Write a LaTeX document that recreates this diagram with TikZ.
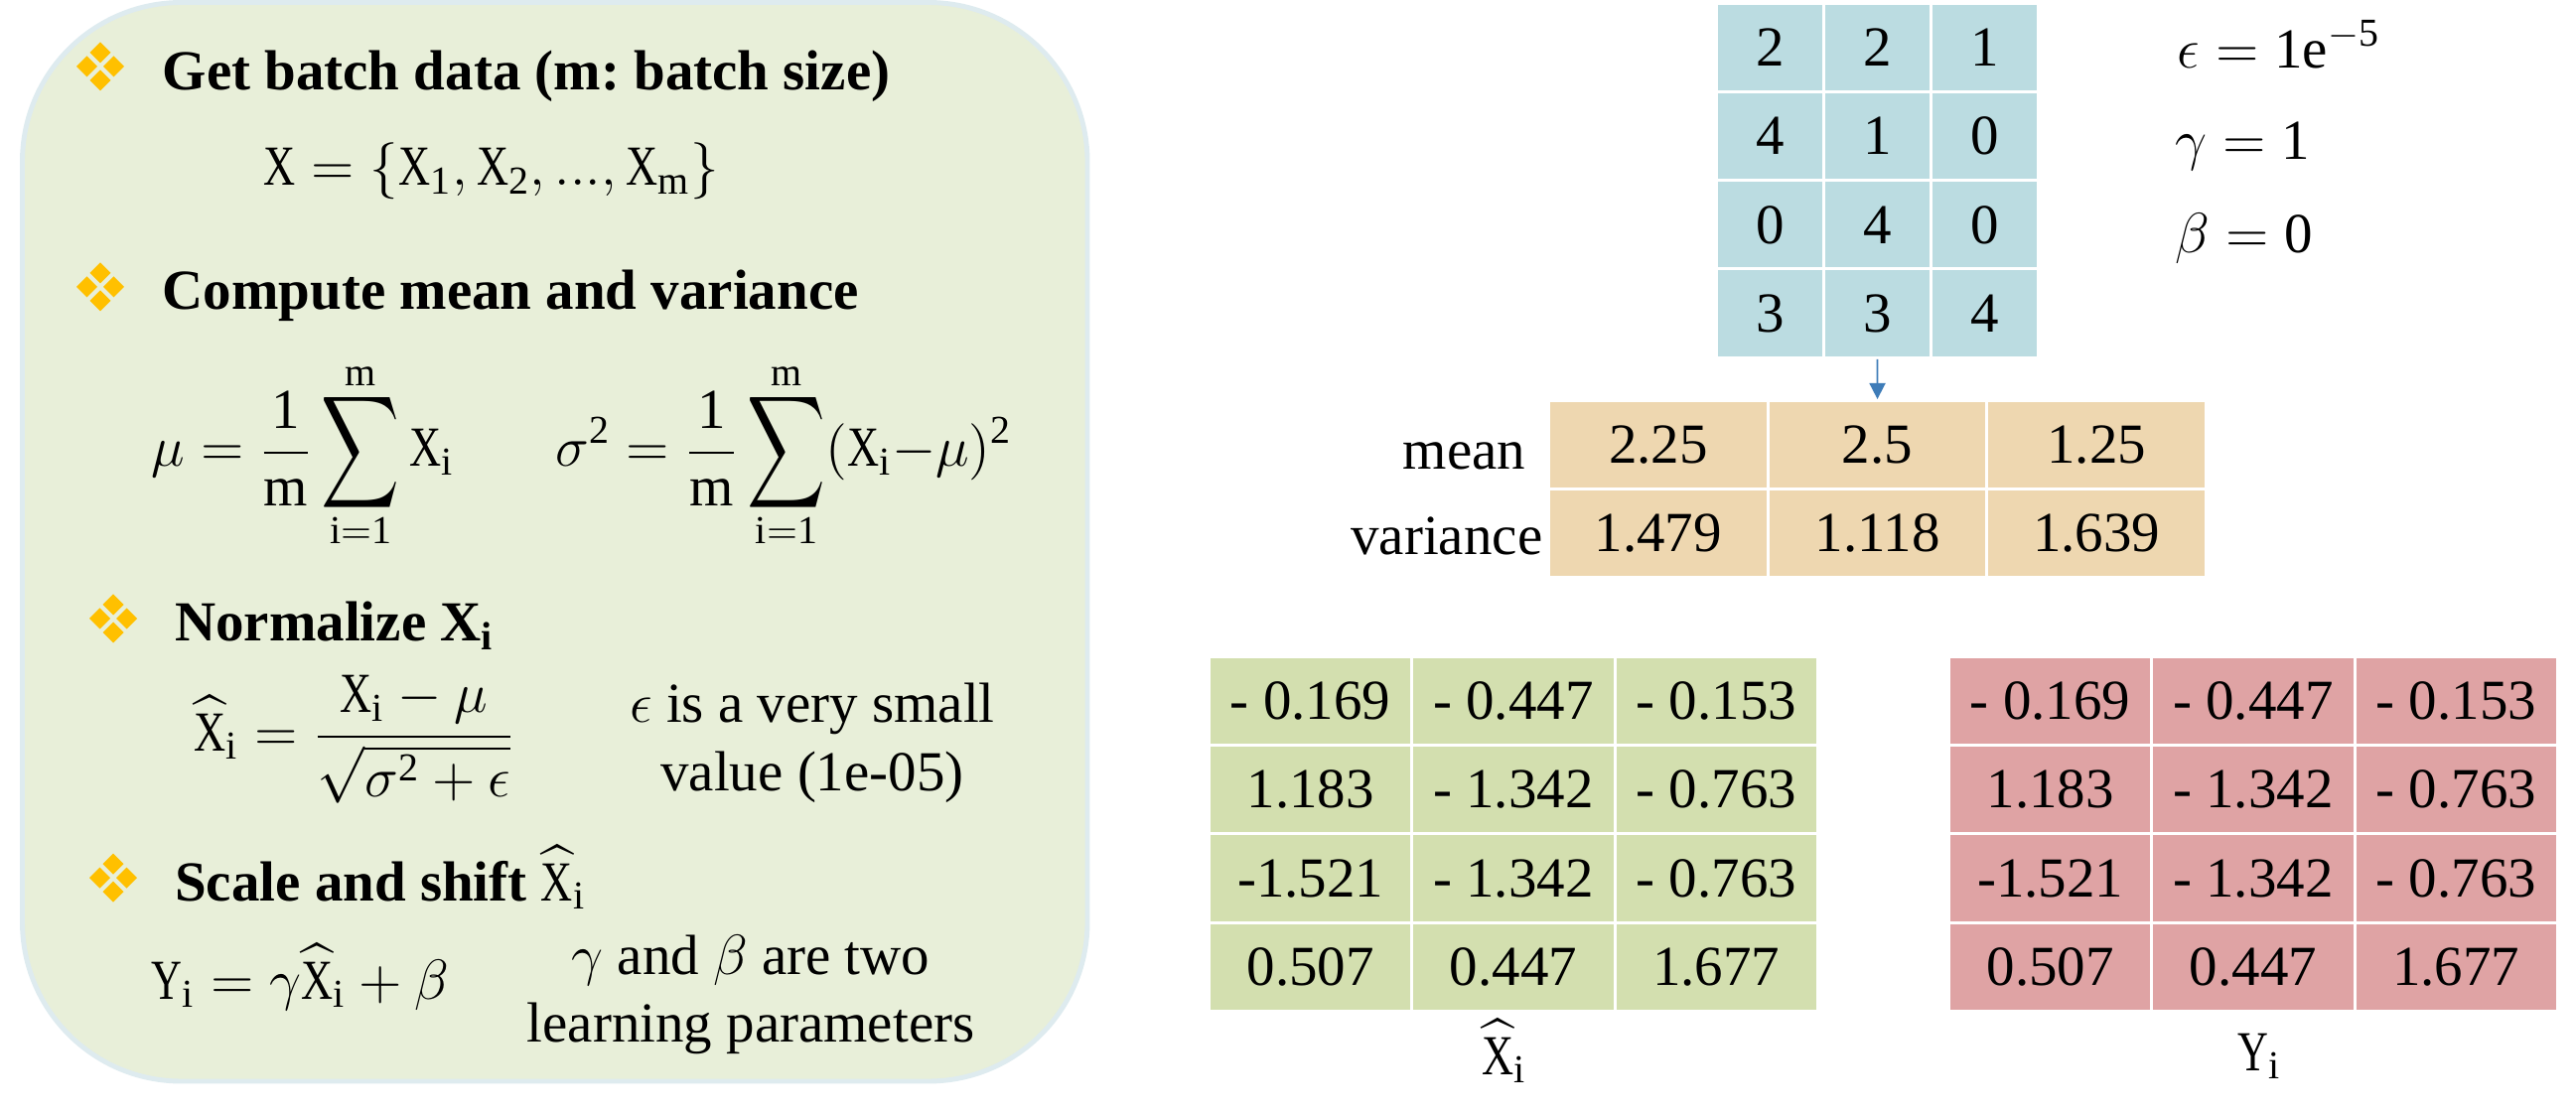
\documentclass[tikz,border=0pt]{standalone}
\usepackage{fix-cm}
\usepackage{amsmath}
\usepackage{graphicx}
\usepackage{fontspec}
\setmainfont{Liberation Serif}
\usetikzlibrary{arrows.meta}
\definecolor{panelfill}{HTML}{E8EFD9}
\definecolor{panelline}{HTML}{DEEBEF}
\definecolor{bulletgold}{HTML}{FFC000}
\definecolor{inputblue}{HTML}{BBDCE1}
\definecolor{statsorange}{HTML}{EED7B0}
\definecolor{xhatgreen}{HTML}{D3DFAF}
\definecolor{youtpink}{HTML}{DFA3A4}
\definecolor{arrowblue}{HTML}{3E7CB8}
\newcommand{\xv}{\mbox{\scalebox{.78}[1]{X}}}
\newcommand{\yv}{\mbox{\scalebox{.75}[1]{Y}}}
\newcommand{\xhatv}{\widehat{\xv}}
\newcommand{\iv}{\mathrm{i}}
\newcommand{\bigsum}{\mathop{\vcenter{\vskip-2.3pt\hbox{\scalebox{.9}[1.3]{$\displaystyle\sum$}}\vskip-2.3pt}}\limits_{\mathrm{i}{=}\mathrm{1}}^{\mathrm{m}}}
\tikzset{
  cell/.style={draw=white, line width=.85pt, inner sep=0pt},
  inputcell/.style={cell, fill=inputblue, minimum width=1.08cm, minimum height=.893cm},
  statscell/.style={cell, fill=statsorange, minimum width=2.207cm, minimum height=.89cm},
  greencell/.style={cell, fill=xhatgreen, minimum width=2.043cm, minimum height=.8925cm},
  pinkcell/.style={cell, fill=youtpink, minimum width=2.043cm, minimum height=.8925cm},
  txt/.style={anchor=base west, inner sep=0pt},
  mid/.style={anchor=base, inner sep=0pt},
  bulletmark/.pic={
    \foreach \dx/\dy in {0/-14,-13.5/0,13.5/0,0/14}
      \fill[bulletgold] (\dx,\dy) +(-10.5,0) -- +(0,-10.5) -- +(10.5,0) -- +(0,10.5) -- cycle;
  }
}
\begin{document}
\frenchspacing
\begin{tikzpicture}[x=0.01cm, y=-0.01cm, font=\fontsize{16.2}{20}\selectfont]
\useasboundingbox (0,0) rectangle (2594,1122);
% left panel
\draw[fill=panelfill, draw=panelline, line width=1.4pt, rounded corners=1.6cm] (22.5,2.5) rectangle (1095,1089);
\pic at (101,67) {bulletmark};
\pic at (101,289) {bulletmark};
\pic at (114,623) {bulletmark};
\pic at (114,884) {bulletmark};
\node[txt] (head1) at (163,91) {\textbf{Get batch data (m: batch size)}};
\node[txt] (batch) at (265,187) {$\xv=\{\xv_{\mathrm{1}},\xv_{\mathrm{2}},\mathrm{...},\xv_{\mathrm{m}}\}$};
\node[txt] (head2) at (163,312) {\textbf{Compute mean and variance}};
\node[txt] (meaneq) at (152,470) {$\displaystyle\mu=\frac{\mathrm{1}}{\mathrm{m}}\bigsum\xv_{\iv}$};
\node[txt] (vareq) at (559,470) {$\displaystyle\sigma^{\mathrm{2}}=\frac{\mathrm{1}}{\mathrm{m}}\bigsum(\xv_{\iv}{-}\mu)^{\mathrm{2}}$};
\node[txt] (head3) at (175.5,646) {\textbf{Normalize} $\mathbf{X}_{\mathbf{i}}$};
\node[txt] (normeq) at (195,756) {$\displaystyle\xhatv_{\iv}=\frac{\xv_{\iv}-\mu}{\sqrt{\sigma^{\mathrm{2}}+\epsilon}}$};
\node[mid] (small1) at (818,728) {$\epsilon$ is a very small};
\node[mid] (small2) at (818,796) {value (1e-05)};
\node[txt] (head4) at (175.5,907) {\textbf{Scale and shift} $\xhatv_{\iv}$};
\node[txt] (scaleeq) at (152,1006) {$\yv_{\iv}=\gamma\xhatv_{\iv}+\beta$};
\node[mid] (learn1) at (756,981) {$\gamma$ and $\beta$ are two};
\node[mid] (learn2) at (756,1049) {learning parameters};
% input table
\foreach \vals [count=\rw] in {{2,2,1},{4,1,0},{0,4,0},{3,3,4}}
  \foreach \val [count=\cl] in \vals
    \node[inputcell] (input-\rw-\cl) at ({1728.5+108*(\cl-.5)},{3.1+89.3*(\rw-.5)}) {\val};
\node[txt] (eps) at (2192,69) {$\epsilon=\mathrm{1e}^{-\mathrm{5}}$};
\node[txt] (gam) at (2190,161) {$\gamma=\mathrm{1}$};
\node[txt] (bet) at (2190,255) {$\beta=\mathrm{0}$};
% mean and variance
\foreach \vals [count=\rw] in {{2.25,2.5,1.25},{1.479,1.118,1.639}}
  \foreach \val [count=\cl] in \vals
    \node[statscell] (stats-\rw-\cl) at ({1559.5+220.7*(\cl-.5)},{403.5+89*(\rw-.5)}) {\val};
\node[anchor=base east, inner sep=0pt] (meanlab) at (1537,473) {mean};
\node[anchor=base east, inner sep=0pt] (varlab) at (1554,559) {variance};
\draw[arrowblue, line width=.5pt, -{Triangle[length=.16cm,width=.16cm]}] (input-4-2) -- (stats-1-2);
% output tables
\foreach \tabname/\xstart/\cellstyle in {xhat/1217.5/greencell, yout/1962.5/pinkcell}
  \foreach \vals [count=\rw] in {{- 0.169,- 0.447,- 0.153},{1.183,- 1.342,- 0.763},{-1.521,- 1.342,- 0.763},{0.507,0.447,1.677}}
    \foreach \val [count=\cl] in \vals
      \node[\cellstyle] (\tabname-\rw-\cl) at ({\xstart+204.3*(\cl-.5)},{661.5+89.25*(\rw-.5)}) {\val};
\node[mid] (xhatlab) at (1515,1082) {$\xhatv_{\iv}$};
\node[mid] (youtlab) at (2275,1078) {$\yv_{\iv}$};
\end{tikzpicture}
\end{document}
